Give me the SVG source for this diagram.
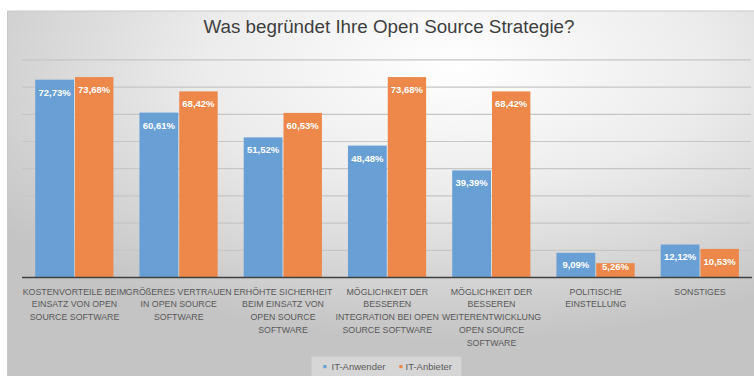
<svg xmlns="http://www.w3.org/2000/svg" width="754" height="376" viewBox="0 0 754 376">
  <defs>
    <radialGradient id="panelFill" cx="0.6" cy="0.15" r="0.75">
      <stop offset="0" stop-color="#ffffff"/>
      <stop offset="0.45" stop-color="#ececec"/>
      <stop offset="1" stop-color="#c4c4c4"/>
    </radialGradient>
    <style>
      .grid { stroke: #c6c6c6; stroke-width: 1.2; }
      .axis { stroke: #404040; stroke-width: 1.6; }
      .blue { fill: #68a0d6; }
      .orange { fill: #ed874a; }
      .val { font-family: "Liberation Sans", Arial, sans-serif; font-size: 9.5px; font-weight: bold; fill: #ffffff; text-anchor: middle; }
      .cat { font-family: "Liberation Sans", Arial, sans-serif; font-size: 8.8px; fill: #595959; text-anchor: middle; }
      .title { font-family: "Liberation Sans", Arial, sans-serif; font-size: 18.8px; fill: #3f3f3f; text-anchor: middle; }
      .legend { font-family: "Liberation Sans", Arial, sans-serif; font-size: 9.5px; fill: #595959; }
    </style>
  </defs>

  <!-- page and chart panel -->
  <rect x="0" y="0" width="754" height="376" fill="#ffffff"/>
  <rect x="7.5" y="11" width="748" height="367" fill="url(#panelFill)" stroke="#c9c9c9" stroke-width="1"/>

  <text class="title" x="389" y="33">Was begründet Ihre Open Source Strategie?</text>

  <!-- value gridlines, 10 % steps -->
  <g id="gridlines">
    <line class="grid" x1="22" y1="59.9" x2="751" y2="59.9"/>
    <line class="grid" x1="22" y1="87.1" x2="751" y2="87.1"/>
    <line class="grid" x1="22" y1="114.3" x2="751" y2="114.3"/>
    <line class="grid" x1="22" y1="141.5" x2="751" y2="141.5"/>
    <line class="grid" x1="22" y1="168.7" x2="751" y2="168.7"/>
    <line class="grid" x1="22" y1="195.9" x2="751" y2="195.9"/>
    <line class="grid" x1="22" y1="223.1" x2="751" y2="223.1"/>
    <line class="grid" x1="22" y1="250.3" x2="751" y2="250.3"/>
  </g>

  <g id="cat-kosten">
    <rect class="blue" x="35.2" y="79.7" width="38.8" height="197.8"/>
    <rect class="orange" x="75" y="77.1" width="38.4" height="200.4"/>
    <text class="val" x="54.6" y="95.7">72,73%</text>
    <text class="val" x="94.2" y="93.1">73,68%</text>
    <text class="cat" x="74.5" y="294.5">KOSTENVORTEILE BEIM</text>
    <text class="cat" x="74.5" y="307.3">EINSATZ VON OPEN</text>
    <text class="cat" x="74.5" y="320.1">SOURCE SOFTWARE</text>
  </g>

  <g id="cat-vertrauen">
    <rect class="blue" x="139.45" y="112.6" width="38.8" height="164.9"/>
    <rect class="orange" x="179.25" y="91.4" width="38.4" height="186.1"/>
    <text class="val" x="158.85" y="128.6">60,61%</text>
    <text class="val" x="198.45" y="107.4">68,42%</text>
    <text class="cat" x="178.75" y="294.5">GRÖßERES VERTRAUEN</text>
    <text class="cat" x="178.75" y="307.3">IN OPEN SOURCE</text>
    <text class="cat" x="178.75" y="320.1">SOFTWARE</text>
  </g>

  <g id="cat-sicherheit">
    <rect class="blue" x="243.7" y="137.4" width="38.8" height="140.1"/>
    <rect class="orange" x="283.5" y="112.9" width="38.4" height="164.6"/>
    <text class="val" x="263.1" y="153.4">51,52%</text>
    <text class="val" x="302.7" y="128.9">60,53%</text>
    <text class="cat" x="283" y="294.5">ERHÖHTE SICHERHEIT</text>
    <text class="cat" x="283" y="307.3">BEIM EINSATZ VON</text>
    <text class="cat" x="283" y="320.1">OPEN SOURCE</text>
    <text class="cat" x="283" y="332.9">SOFTWARE</text>
  </g>

  <g id="cat-integration">
    <rect class="blue" x="347.95" y="145.6" width="38.8" height="131.9"/>
    <rect class="orange" x="387.75" y="77.1" width="38.4" height="200.4"/>
    <text class="val" x="367.35" y="161.6">48,48%</text>
    <text class="val" x="406.95" y="93.1">73,68%</text>
    <text class="cat" x="387.25" y="294.5">MÖGLICHKEIT DER</text>
    <text class="cat" x="387.25" y="307.3">BESSEREN</text>
    <text class="cat" x="387.25" y="320.1">INTEGRATION BEI OPEN</text>
    <text class="cat" x="387.25" y="332.9">SOURCE SOFTWARE</text>
  </g>

  <g id="cat-weiterentwicklung">
    <rect class="blue" x="452.2" y="170.4" width="38.8" height="107.1"/>
    <rect class="orange" x="492" y="91.4" width="38.4" height="186.1"/>
    <text class="val" x="471.6" y="186.4">39,39%</text>
    <text class="val" x="511.2" y="107.4">68,42%</text>
    <text class="cat" x="491.5" y="294.5">MÖGLICHKEIT DER</text>
    <text class="cat" x="491.5" y="307.3">BESSEREN</text>
    <text class="cat" x="491.5" y="320.1">WEITERENTWICKLUNG</text>
    <text class="cat" x="491.5" y="332.9">OPEN SOURCE</text>
    <text class="cat" x="491.5" y="345.7">SOFTWARE</text>
  </g>

  <g id="cat-politisch">
    <rect class="blue" x="556.45" y="252.8" width="38.8" height="24.7"/>
    <rect class="orange" x="596.25" y="263.2" width="38.4" height="14.3"/>
    <text class="val" x="575.85" y="268">9,09%</text>
    <text class="val" x="615.45" y="270">5,26%</text>
    <text class="cat" x="595.75" y="294.5">POLITISCHE</text>
    <text class="cat" x="595.75" y="307.3">EINSTELLUNG</text>
  </g>

  <g id="cat-sonstiges">
    <rect class="blue" x="660.7" y="244.5" width="38.8" height="33"/>
    <rect class="orange" x="700.5" y="248.9" width="38.4" height="28.6"/>
    <text class="val" x="680.1" y="260.3">12,12%</text>
    <text class="val" x="719.7" y="265">10,53%</text>
    <text class="cat" x="700" y="294.5">SONSTIGES</text>
  </g>

  <!-- category axis -->
  <line class="axis" x1="22" y1="277.5" x2="752" y2="277.5"/>

  <g id="legend">
    <rect x="311.5" y="356.5" width="150" height="20" fill="#ffffff" fill-opacity="0.3"/>
    <rect class="blue" x="323.3" y="365" width="3.2" height="3.2"/>
    <text class="legend" x="331.5" y="369.5">IT-Anwender</text>
    <rect class="orange" x="399.3" y="365" width="3.2" height="3.2"/>
    <text class="legend" x="405.5" y="369.5">IT-Anbieter</text>
  </g>
</svg>
